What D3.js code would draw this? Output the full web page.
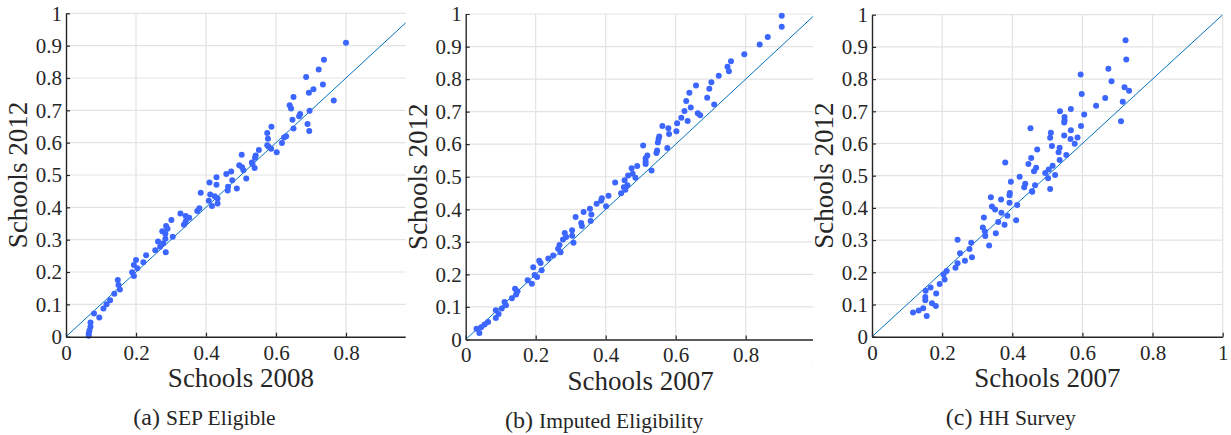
<!DOCTYPE html>
<html lang="en">
<head>
<meta charset="UTF-8">
<title>Schools scatter</title>
<style>
    body { margin: 0; background: #fff; }
    text { font-family: "Liberation Serif", "DejaVu Serif", serif; fill: #262626; }
</style>
</head>
<body>
<div id="chart-container"></div>
<script src="https://d3js.org/d3.v7.min.js"></script>
<script>
    // (x = earlier year, y = 2012)
    const sepEligible = [
        [0.800,0.909],[0.737,0.856],[0.722,0.826],[0.686,0.803],[0.734,0.780],[0.765,0.730],
        [0.707,0.765],[0.694,0.754],[0.650,0.741],[0.639,0.716],[0.643,0.706],[0.696,0.699],
        [0.669,0.689],[0.666,0.682],[0.647,0.671],[0.650,0.644],[0.690,0.658],[0.695,0.636],
        [0.587,0.649],[0.575,0.630],[0.577,0.612],[0.629,0.620],[0.623,0.616],[0.617,0.599],
        [0.575,0.592],[0.579,0.587],[0.586,0.581],[0.602,0.570],[0.551,0.577],[0.542,0.560],
        [0.540,0.553],[0.531,0.539],[0.533,0.534],[0.539,0.522],[0.502,0.563],[0.495,0.530],
        [0.503,0.524],[0.507,0.515],[0.515,0.489],[0.472,0.511],[0.458,0.503],[0.475,0.484],
        [0.463,0.464],[0.462,0.452],[0.488,0.458],[0.430,0.493],[0.430,0.470],[0.410,0.477],
        [0.385,0.445],[0.412,0.440],[0.425,0.434],[0.433,0.427],[0.433,0.412],[0.417,0.404],
        [0.408,0.420],[0.381,0.397],[0.375,0.389],[0.342,0.373],[0.352,0.368],[0.327,0.381],
        [0.342,0.356],[0.337,0.346],[0.301,0.361],[0.305,0.309],[0.286,0.342],[0.290,0.334],
        [0.275,0.326],[0.284,0.318],[0.284,0.303],[0.263,0.294],[0.278,0.289],[0.269,0.278],
        [0.255,0.267],[0.285,0.261],[0.229,0.252],[0.200,0.237],[0.194,0.222],[0.221,0.230],
        [0.204,0.212],[0.189,0.199],[0.194,0.188],[0.148,0.175],[0.150,0.160],[0.154,0.146],
        [0.138,0.133],[0.126,0.113],[0.116,0.100],[0.107,0.087],[0.080,0.072],[0.095,0.059],
        [0.070,0.044],[0.070,0.031],[0.067,0.019],[0.065,0.010],[0.065,0.003]
    ];
    const imputedEligibility = [
        [0.903,0.995],[0.903,0.961],[0.863,0.929],[0.840,0.906],[0.796,0.876],[0.758,0.855],
        [0.748,0.838],[0.752,0.824],[0.723,0.810],[0.702,0.790],[0.696,0.770],[0.690,0.743],
        [0.710,0.722],[0.658,0.780],[0.639,0.758],[0.630,0.733],[0.643,0.713],[0.625,0.702],
        [0.616,0.681],[0.634,0.671],[0.663,0.695],[0.670,0.689],[0.604,0.664],[0.602,0.640],
        [0.562,0.656],[0.579,0.649],[0.581,0.631],[0.553,0.624],[0.551,0.616],[0.549,0.605],
        [0.547,0.581],[0.545,0.573],[0.576,0.588],[0.507,0.596],[0.519,0.565],[0.514,0.557],
        [0.514,0.546],[0.514,0.539],[0.531,0.519],[0.490,0.533],[0.474,0.526],[0.477,0.509],
        [0.485,0.497],[0.464,0.504],[0.454,0.489],[0.462,0.474],[0.452,0.468],[0.456,0.460],
        [0.444,0.449],[0.427,0.482],[0.408,0.442],[0.389,0.434],[0.387,0.426],[0.374,0.417],
        [0.401,0.409],[0.355,0.402],[0.359,0.384],[0.357,0.364],[0.337,0.392],[0.314,0.376],
        [0.330,0.358],[0.332,0.349],[0.304,0.336],[0.283,0.327],[0.304,0.319],[0.287,0.315],
        [0.278,0.307],[0.268,0.290],[0.264,0.279],[0.271,0.268],[0.308,0.297],[0.250,0.258],
        [0.236,0.249],[0.210,0.242],[0.214,0.235],[0.217,0.213],[0.193,0.222],[0.197,0.198],
        [0.204,0.192],[0.177,0.182],[0.189,0.171],[0.141,0.156],[0.148,0.148],[0.144,0.138],
        [0.132,0.127],[0.111,0.115],[0.115,0.105],[0.103,0.095],[0.086,0.090],[0.094,0.078],
        [0.086,0.066],[0.064,0.054],[0.054,0.046],[0.044,0.038],[0.031,0.033],[0.039,0.020]
    ];
    const hhSurvey = [
        [0.723,0.921],[0.725,0.861],[0.674,0.832],[0.683,0.793],[0.595,0.814],[0.598,0.754],
        [0.720,0.775],[0.733,0.764],[0.665,0.741],[0.639,0.717],[0.715,0.730],[0.710,0.669],
        [0.605,0.690],[0.596,0.654],[0.567,0.707],[0.536,0.700],[0.549,0.682],[0.549,0.672],
        [0.548,0.665],[0.567,0.641],[0.452,0.647],[0.510,0.633],[0.548,0.625],[0.586,0.619],
        [0.566,0.614],[0.578,0.599],[0.508,0.618],[0.513,0.592],[0.535,0.587],[0.532,0.573],
        [0.554,0.564],[0.471,0.581],[0.454,0.555],[0.535,0.549],[0.446,0.536],[0.468,0.525],
        [0.462,0.514],[0.515,0.531],[0.504,0.519],[0.494,0.508],[0.502,0.492],[0.522,0.502],
        [0.421,0.497],[0.380,0.541],[0.396,0.481],[0.437,0.475],[0.434,0.464],[0.465,0.470],
        [0.456,0.452],[0.508,0.459],[0.393,0.446],[0.392,0.439],[0.339,0.433],[0.368,0.426],
        [0.414,0.409],[0.411,0.362],[0.342,0.404],[0.351,0.395],[0.369,0.385],[0.386,0.376],
        [0.360,0.356],[0.378,0.348],[0.353,0.321],[0.392,0.416],[0.319,0.370],[0.316,0.339],
        [0.322,0.327],[0.323,0.313],[0.334,0.283],[0.283,0.292],[0.278,0.272],[0.285,0.247],
        [0.251,0.259],[0.244,0.301],[0.265,0.236],[0.244,0.228],[0.238,0.214],[0.213,0.204],
        [0.204,0.193],[0.207,0.178],[0.193,0.164],[0.167,0.153],[0.153,0.143],[0.183,0.134],
        [0.152,0.123],[0.152,0.113],[0.171,0.104],[0.182,0.095],[0.146,0.088],[0.133,0.081],
        [0.117,0.075],[0.156,0.064],[0.457,0.450]
    ];
    const xTicks = [0, 0.2, 0.4, 0.6, 0.8, 1];
    const yTicks = [0, 0.1, 0.2, 0.3, 0.4, 0.5, 0.6, 0.7, 0.8, 0.9, 1];
    const xLabels = ["Schools 2008", "Schools 2007", "Schools 2007"];
    const yLabel = "Schools 2012";
    const captionTags = ["(a)", "(b)", "(c)"];
    const captionTexts = ["SEP Eligible", "Imputed Eligibility", "HH Survey"];

    const WIDTH = 1231, HEIGHT = 435;
    // plot boxes and the visible slice of each subfigure (later ones cover earlier ones)
    const PANELS = [
        {left: 66,    right: 416,    top: 13.3, bottom: 336.7, clipL: 0,     clipR: 405.7, yLabX: 27},
        {left: 465.7, right: 815.7,  top: 14,   bottom: 339.5, clipL: 405.7, clipR: 813,   yLabX: 426.7},
        {left: 872,   right: 1222.7, top: 14.7, bottom: 336.7, clipL: 813,   clipR: 1231,  yLabX: 833}
    ];
    const datasets = [sepEligible, imputedEligibility, hhSurvey];

    const svg = d3.select("#chart-container").append("svg")
        .attr("width", WIDTH)
        .attr("height", HEIGHT);
    const defs = svg.append("defs");
    const fmt = d3.format("~g");

    PANELS.forEach((p, i) => {
        defs.append("clipPath").attr("id", "panel" + i)
            .append("rect")
            .attr("x", p.clipL).attr("y", 0)
            .attr("width", p.clipR - p.clipL).attr("height", HEIGHT);
        defs.append("clipPath").attr("id", "plot" + i)
            .append("rect")
            .attr("x", p.left).attr("y", p.top)
            .attr("width", p.right - p.left).attr("height", p.bottom - p.top);

        const g = svg.append("g").attr("clip-path", `url(#panel${i})`);

        const x = d3.scaleLinear().domain([0, 1]).range([p.left, p.right]);
        const y = d3.scaleLinear().domain([0, 1]).range([p.bottom, p.top]);

        // grid
        g.append("g").selectAll("line").data(xTicks.filter(d => d > 0)).enter().append("line")
            .attr("x1", d => x(d)).attr("x2", d => x(d))
            .attr("y1", p.top).attr("y2", p.bottom)
            .attr("stroke", "#e3e3e3").attr("stroke-width", 1.2);
        g.append("g").selectAll("line").data(yTicks.filter(d => d > 0)).enter().append("line")
            .attr("x1", p.left).attr("x2", p.right)
            .attr("y1", d => y(d)).attr("y2", d => y(d))
            .attr("stroke", "#e3e3e3").attr("stroke-width", 1.2);

        // 45 degree line
        g.append("line")
            .attr("clip-path", `url(#plot${i})`)
            .attr("x1", x(0)).attr("y1", y(0))
            .attr("x2", x(1)).attr("y2", y(1))
            .attr("stroke", "#0072BD").attr("stroke-width", 1);

        g.append("g").selectAll("circle").data(datasets[i]).enter().append("circle")
            .attr("cx", d => x(d[0]))
            .attr("cy", d => y(d[1]))
            .attr("r", 3)
            .attr("fill", "#3b66ff");

        // axes
        const xAxis = g.append("g")
            .attr("transform", `translate(0, ${p.bottom})`)
            .call(d3.axisBottom(x).tickValues(xTicks).tickFormat(fmt).tickSizeInner(-4).tickSizeOuter(0).tickPadding(8));
        const yAxis = g.append("g")
            .attr("transform", `translate(${p.left}, 0)`)
            .call(d3.axisLeft(y).tickValues(yTicks).tickFormat(fmt).tickSizeInner(-4).tickSizeOuter(0).tickPadding(4));
        [xAxis, yAxis].forEach(a => {
            a.attr("font-family", null).attr("font-size", null);
            a.select(".domain").attr("stroke", "#262626").attr("stroke-width", 1.4);
            a.selectAll(".tick line").attr("stroke", "#262626").attr("stroke-width", 1.2);
            a.selectAll(".tick text").style("font-size", "21px").attr("fill", "#262626");
        });

        g.append("text")
            .attr("x", (p.left + p.right) / 2)
            .attr("y", p.bottom + 50)
            .attr("text-anchor", "middle")
            .style("font-size", "27px")
            .text(xLabels[i]);

        g.append("text")
            .attr("transform", `translate(${p.yLabX}, ${(p.top + p.bottom) / 2}) rotate(-90)`)
            .attr("text-anchor", "middle")
            .style("font-size", "27px")
            .text(yLabel);

        const cap = g.append("text")
            .attr("x", (p.left + p.right) / 2 - 36.5)
            .attr("y", p.bottom + 88.5)
            .attr("text-anchor", "middle");
        cap.append("tspan").style("font-size", "24px").text(captionTags[i] + " ");
        cap.append("tspan").style("font-size", "21.5px").text(captionTexts[i]);
    });
</script>
</body>
</html>
